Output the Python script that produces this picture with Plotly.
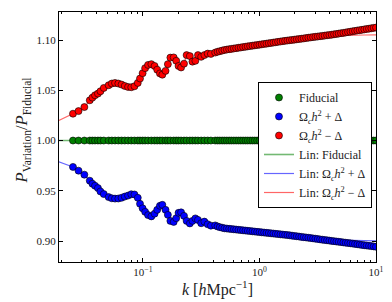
import plotly.graph_objects as go

# ---- data ----
k_wiggle = [0.02512, 0.02802, 0.03144, 0.03500, 0.03687, 0.03883, 0.04112, 0.04323, 0.04615,
            0.05079, 0.05412, 0.05765, 0.06154, 0.06557, 0.06985, 0.07455, 0.07943, 0.08462,
            0.09034, 0.09441, 0.09943, 0.10452, 0.11070, 0.11814, 0.12589, 0.13258, 0.13990,
            0.14678, 0.15636, 0.16373, 0.17209, 0.18366, 0.19306, 0.20215, 0.21259, 0.22519,
            0.23714, 0.25266, 0.26607, 0.28184, 0.29683, 0.31623, 0.33689, 0.35951, 0.38312]
k_dense = [0.417, 0.437, 0.457, 0.479, 0.501, 0.525, 0.550, 0.575, 0.603, 0.631, 0.661, 0.692,
           0.724, 0.759, 0.794, 0.832, 0.871, 0.912, 0.955, 1.000, 1.047, 1.096, 1.148, 1.202,
           1.259, 1.318, 1.380, 1.445, 1.514, 1.585, 1.660, 1.738, 1.820, 1.905, 1.995, 2.089,
           2.188, 2.291, 2.399, 2.512, 2.630, 2.754, 2.884, 3.020, 3.162, 3.311, 3.467, 3.631,
           3.802, 3.981, 4.169, 4.365, 4.571, 4.786, 5.012, 5.248, 5.495, 5.754, 6.026, 6.310,
           6.607, 6.918, 7.244, 7.586, 7.943, 8.318, 8.710, 9.120, 9.550, 10.00]
k_points = k_wiggle + k_dense

fiducial = [1.0] * len(k_points)

plus_wiggle = [0.9737, 0.9700, 0.9660, 0.9600, 0.9570, 0.9550, 0.9527, 0.9493, 0.9467,
               0.9437, 0.9425, 0.9422, 0.9423, 0.9430, 0.9442, 0.9452, 0.9465, 0.9463,
               0.9430, 0.9370, 0.9325, 0.9290, 0.9258, 0.9245, 0.9272, 0.9310, 0.9350,
               0.9360, 0.9310, 0.9260, 0.9200, 0.9190, 0.9227, 0.9280, 0.9285, 0.9250,
               0.9200, 0.9175, 0.9200, 0.9225, 0.9210, 0.9177, 0.9193, 0.9167, 0.9153]
plus_dense = [0.9155, 0.9145, 0.9138, 0.9132, 0.9126, 0.9124, 0.9121, 0.9119, 0.9116, 0.9114,
              0.9111, 0.9109, 0.9106, 0.9104, 0.9101, 0.9099, 0.9096, 0.9094, 0.9091, 0.9089,
              0.9086, 0.9084, 0.9081, 0.9079, 0.9076, 0.9074, 0.9071, 0.9069, 0.9066, 0.9064,
              0.9061, 0.9059, 0.9056, 0.9053, 0.9050, 0.9047, 0.9044, 0.9041, 0.9038, 0.9035,
              0.9032, 0.9029, 0.9026, 0.9023, 0.9020, 0.9016, 0.9013, 0.9010, 0.9007, 0.9004,
              0.9001, 0.8998, 0.8995, 0.8992, 0.8989, 0.8986, 0.8983, 0.8980, 0.8977, 0.8974,
              0.8971, 0.8968, 0.8964, 0.8961, 0.8958, 0.8955, 0.8952, 0.8949, 0.8946, 0.8943]
plus_points = plus_wiggle + plus_dense

minus_wiggle = [1.0267, 1.0293, 1.0333, 1.0400, 1.0427, 1.0450, 1.0467, 1.0490, 1.0523,
                1.0550, 1.0567, 1.0573, 1.0567, 1.0557, 1.0543, 1.0533, 1.0530, 1.0540,
                1.0573, 1.0617, 1.0670, 1.0720, 1.0752, 1.0760, 1.0742, 1.0705, 1.0668,
                1.0655, 1.0693, 1.0760, 1.0825, 1.0827, 1.0793, 1.0742, 1.0727, 1.0765,
                1.0850, 1.0840, 1.0785, 1.0793, 1.0850, 1.0833, 1.0850, 1.0865, 1.0862]
minus_dense = [1.0875, 1.0883, 1.0889, 1.0895, 1.0901, 1.0905, 1.0909, 1.0912, 1.0916, 1.0919,
               1.0923, 1.0926, 1.0930, 1.0933, 1.0937, 1.0940, 1.0944, 1.0947, 1.0950, 1.0954,
               1.0957, 1.0961, 1.0964, 1.0968, 1.0971, 1.0975, 1.0978, 1.0982, 1.0985, 1.0989,
               1.0992, 1.0995, 1.0998, 1.1001, 1.1004, 1.1007, 1.1010, 1.1013, 1.1016, 1.1020,
               1.1023, 1.1026, 1.1029, 1.1032, 1.1035, 1.1038, 1.1041, 1.1044, 1.1047, 1.1050,
               1.1053, 1.1057, 1.1060, 1.1064, 1.1068, 1.1071, 1.1075, 1.1079, 1.1083, 1.1087,
               1.1091, 1.1095, 1.1098, 1.1102, 1.1106, 1.1110, 1.1113, 1.1117, 1.1121, 1.1124]
minus_points = minus_wiggle + minus_dense

# linear-theory curves
k_lin = [0.0190] + k_wiggle + [0.417, 0.525, 0.661, 0.832, 1.047, 1.318, 1.660, 2.089, 2.630,
                               3.162, 3.981, 5.012, 6.310, 7.943, 10.00]
lin_fid = [1.0] * len(k_lin)
lin_plus = [0.9787] + plus_wiggle + [0.9155, 0.9124, 0.9111, 0.9099, 0.9086, 0.9074, 0.9061,
                                     0.9050, 0.9036, 0.9024, 0.9014, 0.9009, 0.9006, 0.9004, 0.9002]
lin_minus = [1.0200] + minus_wiggle + [1.0875, 1.0905, 1.0923, 1.0940, 1.0957, 1.0975, 1.0992,
                                       1.1004, 1.1018, 1.1032, 1.1040, 1.1045, 1.1048, 1.1050, 1.1051]

x_tickvals = [0.1, 1, 10]
x_ticktext = ["10<sup>\u22121</sup>", "10<sup>0</sup>", "10<sup>1</sup>"]
y_tickvals = [0.90, 0.95, 1.00, 1.05, 1.10]

FONT = "Liberation Serif"
TXT = "#222222"
OM = "\u03a9<sub><i>c</i></sub><i>h</i><sup>2</sup>"

fig = go.Figure()

# lines first (drawn under markers)
fig.add_trace(go.Scatter(x=k_lin, y=lin_fid, mode="lines", name="Lin: Fiducial",
                         line=dict(color="rgba(0,128,0,0.55)", width=1.6), legendrank=4))
fig.add_trace(go.Scatter(x=k_lin, y=lin_plus, mode="lines", name="Lin: " + OM + " + \u0394",
                         line=dict(color="rgba(0,0,255,0.6)", width=1.2), legendrank=5))
fig.add_trace(go.Scatter(x=k_lin, y=lin_minus, mode="lines", name="Lin: " + OM + " \u2212 \u0394",
                         line=dict(color="rgba(255,0,0,0.6)", width=1.2), legendrank=6))

mk = dict(size=7, line=dict(color="#000000", width=0.6))
fig.add_trace(go.Scatter(x=k_points, y=fiducial, mode="markers", name="Fiducial",
                         marker=dict(color="#007f00", **mk), legendrank=1))
fig.add_trace(go.Scatter(x=k_points, y=plus_points, mode="markers", name=OM + " + \u0394",
                         marker=dict(color="#0000ff", **mk), legendrank=2))
fig.add_trace(go.Scatter(x=k_points, y=minus_points, mode="markers", name=OM + " \u2212 \u0394",
                         marker=dict(color="#ff0000", **mk), legendrank=3))

axis_common = dict(showline=True, linecolor="black", linewidth=1, mirror="allticks",
                   ticks="inside", tickcolor="black", showgrid=False, zeroline=False,
                   tickfont=dict(family=FONT, size=11, color=TXT))

fig.update_xaxes(type="log", range=[-1.72, 1.0], tickvals=x_tickvals, ticktext=x_ticktext,
                 ticklen=4,
                 minor=dict(ticks="inside", ticklen=2, tickcolor="black", dtick="D1", showgrid=False),
                 **axis_common)
fig.update_yaxes(range=[0.8791, 1.1279], tickvals=y_tickvals, tickformat=".2f", ticklen=4,
                 **axis_common)

fig.add_annotation(text="<i>P</i><sub>Variation</sub>/<i>P</i><sub>Fiducial</sub>",
                   xref="paper", yref="paper", x=-0.117, y=0.526, xanchor="center", yanchor="middle",
                   textangle=-90, showarrow=False, font=dict(family=FONT, size=16.5, color=TXT))
fig.add_annotation(text="<i>k</i> [<i>h</i>Mpc<sup>\u22121</sup>]",
                   xref="paper", yref="paper", x=0.5, y=-0.104, xanchor="center", yanchor="middle",
                   showarrow=False, font=dict(family=FONT, size=16, color=TXT))

fig.update_layout(
    width=392, height=302,
    margin=dict(l=59, r=8, t=12, b=40),
    paper_bgcolor="white", plot_bgcolor="white",
    showlegend=True,
    legend=dict(x=0.6277, y=0.72, xanchor="left", yanchor="top",
                bgcolor="white", bordercolor="black", borderwidth=1,
                font=dict(family=FONT, size=12, color=TXT),
                tracegroupgap=0, itemwidth=30),
    font=dict(family=FONT, color=TXT),
)

fig.write_html("out.html", config={"displayModeBar": False},
               post_script="document.body.style.margin='0';document.body.style.overflow='hidden';")
